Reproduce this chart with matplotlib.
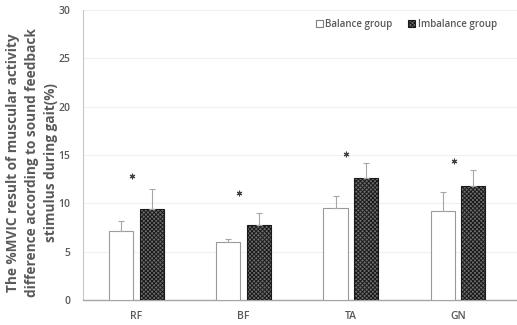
import matplotlib
matplotlib.use("Agg")
import matplotlib.pyplot as plt
import numpy as np
from matplotlib.patches import Patch

plt.rcParams['font.family'] = ['Open Sans', 'DejaVu Sans']
plt.rcParams['hatch.linewidth'] = 0.7
plt.rcParams['hatch.color'] = '#262626'

muscles = ["RF", "BF", "TA", "GN"]
balance_mean = [7.15, 6.0, 9.5, 9.2]
balance_sd = [1.05, 0.3, 1.3, 2.0]
imbalance_mean = [9.4, 7.8, 12.6, 11.8]
imbalance_sd = [2.1, 1.2, 1.6, 1.7]
star_y = [12.8, 11.1, 15.1, 14.4]

fig = plt.figure(figsize=(5.17, 3.25), dpi=100)
ax = fig.add_axes([0.1605, 0.077, 0.839, 0.892])

x = np.arange(len(muscles))
w = 0.225
off = 0.142
txt = '#595959'
dark_face = '#6e6e6e'

ax.bar(x - off, balance_mean, w, color='white', edgecolor='#9a9a9a', linewidth=0.8, zorder=3)
ax.bar(x + off, imbalance_mean, w, color=dark_face, edgecolor='#1a1a1a', linewidth=0.8,
       hatch='xxxxxxxx', zorder=3)
ax.errorbar(x - off, balance_mean, yerr=[np.zeros(4), balance_sd], fmt='none',
            ecolor='#a6a6a6', elinewidth=0.8, capsize=2, capthick=0.8, zorder=4)
ax.errorbar(x + off, imbalance_mean, yerr=[np.zeros(4), imbalance_sd], fmt='none',
            ecolor='#a6a6a6', elinewidth=0.8, capsize=2, capthick=0.8, zorder=4)

# significance markers
ax.plot(x - 0.04, star_y, linestyle='none', marker=(6, 2, 0), markersize=4,
        markeredgewidth=0.8, color='#404040', zorder=5)

ax.set_xlim(-0.5, 3.55)
ax.set_ylim(0, 30)
ax.set_yticks(range(0, 31, 5))
ax.set_xticks(x)
ax.set_xticklabels(muscles)
ax.tick_params(axis='y', length=0, labelsize=7.5, colors=txt, pad=9)
ax.tick_params(axis='x', length=0, labelsize=7.5, colors=txt, pad=8)
for lab in ax.get_xticklabels() + ax.get_yticklabels():
    lab.set_fontweight('semibold')
ax.yaxis.grid(True, color='#f0f0f0', linewidth=0.8, zorder=0)
ax.set_axisbelow(True)
for s in ['top', 'right']:
    ax.spines[s].set_visible(False)
ax.spines['left'].set_color('#c8c8c8')
ax.spines['bottom'].set_color('#a6a6a6')
ax.spines['left'].set_linewidth(0.8)
ax.spines['bottom'].set_linewidth(1.0)

fig.text(0.062, 0.5,
         "The %MVIC result of muscular activity\ndifference according to sound feedback\nstimulus during gait(%)",
         rotation=90, ha='center', va='center', fontsize=9.8, color=txt,
         fontweight='bold', linespacing=1.45)

handles = [Patch(facecolor='white', edgecolor='#7f7f7f', linewidth=0.8),
           Patch(facecolor=dark_face, edgecolor='#1a1a1a', hatch='xxxxxxxx', linewidth=0.8)]
leg = ax.legend(handles, ["Balance group", "Imbalance group"], ncol=2, frameon=False,
                loc='upper right', bbox_to_anchor=(0.975, 1.0), fontsize=7,
                handlelength=0.7, handleheight=0.7, handletextpad=0.3, columnspacing=1.6)
for t in leg.get_texts():
    t.set_color(txt)
    t.set_fontweight('semibold')

fig.savefig("out.png", dpi=100)
